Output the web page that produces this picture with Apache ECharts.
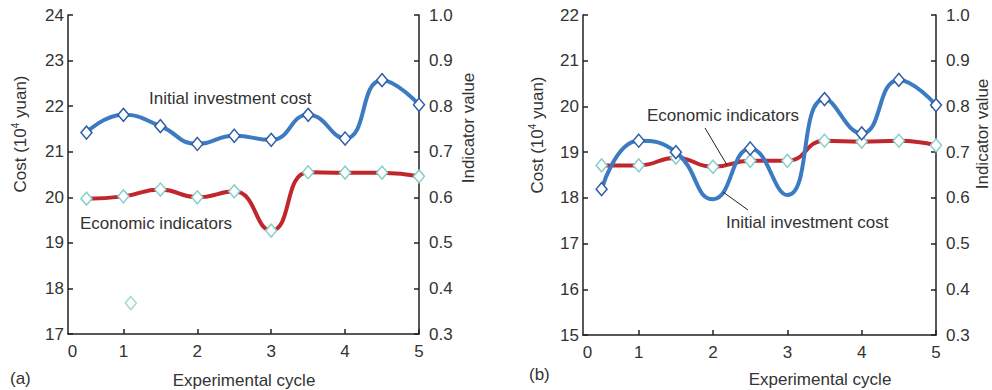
<!DOCTYPE html>
<html>
<head>
<meta charset="utf-8">
<script src="https://cdn.jsdelivr.net/npm/echarts@6/dist/echarts.min.js"></script>
<style>
html,body{margin:0;padding:0;background:#fff;}
#main{width:992px;height:390px;}
</style>
</head>
<body>
<div id="main"></div>
<script>
// experimental cycle
var cycles = [0.5, 1, 1.5, 2, 2.5, 3, 3.5, 4, 4.5, 5];
var xTickLabels = ['0', '1', '2', '3', '4', '5'];
var xTickValues = [1, 2, 3, 4, 5];

// (a)
var costA = [21.42, 21.81, 21.56, 21.17, 21.35, 21.26, 21.81, 21.29, 22.57, 22.03];
var indicatorA = [0.597, 0.602, 0.617, 0.600, 0.613, 0.527, 0.655, 0.654, 0.654, 0.646];
var strayA = [[1.1, 0.368]];

// (b)
var costB = [18.19, 19.25, 19.00, 17.97, 19.08, 18.06, 20.16, 19.41, 20.58, 20.03];
var costBNoMarker = [2, 3];
var indicatorB = [0.671, 0.671, 0.688, 0.668, 0.681, 0.681, 0.725, 0.723, 0.725, 0.715];

var FONT = 'Liberation Sans, Arial, sans-serif';
var FS = 17;
var TXT = '#333';
var BLUE = '#3c7bc2';
var BLUE_MK = '#2f5da6';
var RED = '#c0272d';
var CYAN = '#86cfcb';

function $each(arr, fn){ for (var i = 0; i < arr.length; i++) fn(i, arr[i]); }
function pairs(ys, hide){
    var out = [];
    $each(ys, function(i, v){
        var item = {value: [cycles[i], v]};
        if (hide && hide.indexOf(cycles[i]) >= 0) item.symbolSize = 0;
        out.push(item);
    });
    return out;
}

function xAxis(idx){
    return {
        type: 'value', gridIndex: idx, min: 0.25, max: 5,
        axisLine: {lineStyle: {color: '#222', width: 1.5}},
        axisTick: {inside: true, length: 5, customValues: xTickValues, lineStyle: {color: '#222', width: 1.5}},
        axisLabel: {
            customValues: [0.31].concat(xTickValues), margin: 9,
            color: TXT, fontSize: FS, fontFamily: FONT,
            formatter: function(v){ return v < 1 ? xTickLabels[0] : String(Math.round(v)); }
        },
        splitLine: {show: false}
    };
}
function costAxis(idx, min, max){
    return {
        type: 'value', gridIndex: idx, min: min, max: max, interval: 1, position: 'left',
        axisLine: {show: true, lineStyle: {color: '#222', width: 1.5}},
        axisTick: {show: true, inside: true, length: 5, lineStyle: {color: '#222', width: 1.5}},
        axisLabel: {margin: 4, color: TXT, fontSize: FS, fontFamily: FONT},
        splitLine: {show: false}
    };
}
function indAxis(idx){
    return {
        type: 'value', gridIndex: idx, min: 0.3, max: 1.0, interval: 0.1, position: 'right',
        axisLine: {show: true, lineStyle: {color: '#222', width: 1.5}},
        axisTick: {show: true, inside: true, length: 5, lineStyle: {color: '#222', width: 1.5}},
        axisLabel: {margin: 10, color: TXT, fontSize: FS, fontFamily: FONT,
            formatter: function(v){ return v.toFixed(1); }},
        splitLine: {show: false}
    };
}
function costLine(xi, yi, data){
    return {
        type: 'line', xAxisIndex: xi, yAxisIndex: yi, data: data, smooth: 0.5,
        symbol: 'diamond', symbolSize: [11, 13], z: 3,
        lineStyle: {color: BLUE, width: 4},
        itemStyle: {color: '#fff', borderColor: BLUE_MK, borderWidth: 1.5}
    };
}
function indLine(xi, yi, data){
    return {
        type: 'line', xAxisIndex: xi, yAxisIndex: yi, data: data, smooth: 0.5,
        symbol: 'diamond', symbolSize: [11, 13], z: 2,
        lineStyle: {color: RED, width: 4},
        itemStyle: {color: '#fff', borderColor: CYAN, borderWidth: 1.5}
    };
}
function txt(x, y, s, opt){
    var o = {type: 'text', x: x, y: y, z: 10,
        style: {text: s, fill: TXT, fontSize: FS, fontFamily: FONT, align: 'left', verticalAlign: 'middle'}};
    if (opt) for (var k in opt) o.style[k] = opt[k];
    return o;
}
function vtxt(x, y, s, rich){
    var o = {type: 'text', x: x, y: y, rotation: Math.PI / 2, z: 10,
        style: {text: s, fill: TXT, fontSize: FS, fontFamily: FONT, align: 'center', verticalAlign: 'middle'}};
    if (rich) o.style.rich = rich;
    return o;
}
var costRich = {
    a: {fontSize: FS, fontFamily: FONT, fill: TXT},
    s: {fontSize: 10, fontFamily: FONT, fill: TXT, padding: [0, 0, 10, 0]}
};
function leader(x1, y1, x2, y2){
    return {type: 'line', z: 10, shape: {x1: x1, y1: y1, x2: x2, y2: y2},
        style: {stroke: '#222', lineWidth: 1}};
}

var myChart = echarts.init(document.getElementById('main'), null, {renderer: 'svg'});
var option = {
    backgroundColor: '#fff',
    animation: false,
    grid: [
        {left: 68, right: 573, top: 15, bottom: 56},
        {left: 583, right: 56, top: 15, bottom: 55}
    ],
    xAxis: [xAxis(0), xAxis(1)],
    yAxis: [costAxis(0, 17, 24), indAxis(0), costAxis(1, 15, 22), indAxis(1)],
    series: [
        indLine(0, 1, pairs(indicatorA)),
        costLine(0, 0, pairs(costA)),
        {
            type: 'scatter', xAxisIndex: 0, yAxisIndex: 1, data: strayA,
            symbol: 'diamond', symbolSize: [11, 13],
            itemStyle: {color: '#fff', borderColor: CYAN, borderWidth: 1.5}
        },
        indLine(1, 3, pairs(indicatorB)),
        costLine(1, 2, pairs(costB, costBNoMarker))
    ],
    graphic: [
        vtxt(20, 134, '{a|Cost (10}{s|4}{a| yuan)}', costRich),
        vtxt(468, 128, 'Indicator value'),
        vtxt(537, 135, '{a|Cost (10}{s|4}{a| yuan)}', costRich),
        vtxt(982, 134, 'Indicator value'),
        txt(149, 98, 'Initial investment cost'),
        txt(80, 223, 'Economic indicators'),
        txt(647, 115, 'Economic indicators'),
        txt(726, 222, 'Initial investment cost'),
        leader(705, 128, 727, 165),
        leader(723, 192, 748, 210),
        txt(244, 380, 'Experimental cycle', {align: 'center'}),
        txt(820, 379, 'Experimental cycle', {align: 'center'}),
        txt(10, 378, '(a)'),
        txt(529, 374, '(b)')
    ]
};
myChart.setOption(option);
</script>
</body>
</html>
